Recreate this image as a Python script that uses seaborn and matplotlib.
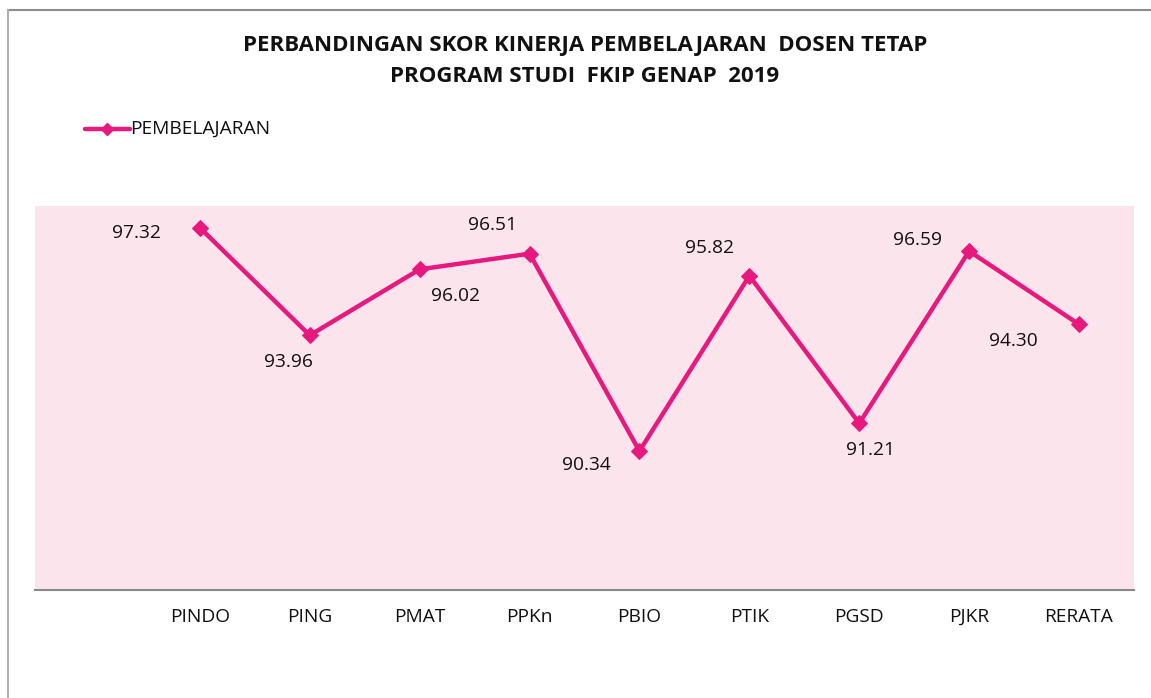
import matplotlib
matplotlib.use("Agg")
import matplotlib.pyplot as plt
import seaborn as sns
from matplotlib.lines import Line2D

# data
programs = ["PINDO", "PING", "PMAT", "PPKn", "PBIO", "PTIK", "PGSD", "PJKR", "RERATA"]
scores = [97.32, 93.96, 96.02, 96.51, 90.34, 95.82, 91.21, 96.59, 94.30]
# label offsets in points (dx, dy) to mimic the excel label placement
label_offsets = [(-46, -4), (-15, -19), (26, -19), (-27, 21), (-38, -10),
                 (-29, 20), (8, -19), (-37, 8), (-47, -12)]

pink = "#E8197E"

sns.set_theme(style="white")
plt.rcParams['font.family'] = ['Open Sans', 'DejaVu Sans']

fig = plt.figure(figsize=(11.51, 6.98), dpi=100)
ax = fig.add_axes([35 / 1151, 1 - 590 / 698, 1099 / 1151, 384 / 698])
ax.set_facecolor("#FCE4EC")

# first slot on the category axis is empty, like the original sheet
xpos = list(range(1, len(programs) + 1))
sns.lineplot(x=xpos, y=scores, ax=ax, color=pink, linewidth=3.2,
             marker="D", markersize=8.5, markeredgecolor=pink,
             label="PEMBELAJARAN", legend=False)

for x, y, (dx, dy) in zip(xpos, scores, label_offsets):
    ax.annotate(f"{y:.2f}", (x, y), xytext=(dx, dy), textcoords="offset points",
                ha="center", va="center", fontsize=13.8, color="#111111")

ax.set_xlim(-0.5, len(programs) + 0.5)
ax.set_ylim(86, 98)
ax.set_xticks(xpos)
ax.set_xticklabels(programs, fontsize=13.8, color="#111111")
ax.set_yticks([])
ax.tick_params(axis="x", length=0, pad=13)
for s in ["top", "right", "left"]:
    ax.spines[s].set_visible(False)
ax.spines["bottom"].set_color("#898989")
ax.spines["bottom"].set_linewidth(1.5)

fig.text(585 / 1151, 1 - 45 / 698, "PERBANDINGAN SKOR KINERJA PEMBELAJARAN  DOSEN TETAP",
         ha="center", va="center", fontsize=16, fontweight="bold", color="#111111")
fig.text(585 / 1151, 1 - 76 / 698, "PROGRAM STUDI  FKIP GENAP  2019",
         ha="center", va="center", fontsize=16, fontweight="bold", color="#111111")

# legend drawn by hand at the top left
fig.add_artist(Line2D([85 / 1151, 130 / 1151], [1 - 129 / 698, 1 - 129 / 698],
                      color=pink, linewidth=3.2, marker=None))
fig.add_artist(Line2D([107 / 1151], [1 - 129 / 698], color=pink, marker="D",
                      markersize=6, linestyle="none"))
fig.text(130 / 1151, 1 - 129 / 698, "PEMBELAJARAN", ha="left", va="center",
         fontsize=13.8, color="#111111")

# chart border (top and left)
fig.add_artist(Line2D([8 / 1151, 1], [1 - 10 / 698, 1 - 10 / 698], color="#8c8c8c", linewidth=1.5))
fig.add_artist(Line2D([8 / 1151, 8 / 1151], [1 - 10 / 698, 0], color="#b0b0b0", linewidth=1.5))

fig.savefig("out.png", dpi=100)
